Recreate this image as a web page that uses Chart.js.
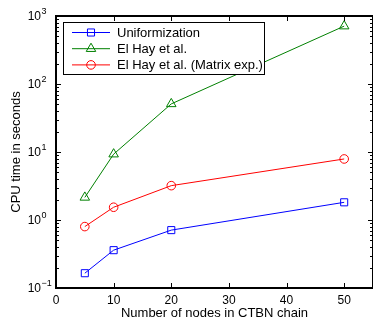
<!DOCTYPE html>
<html>
<head>
<meta charset="utf-8">
<script src="https://cdn.jsdelivr.net/npm/chart.js@4.4.1/dist/chart.umd.min.js"></script>
<style>
  html, body { margin: 0; padding: 0; background: #fff; }
  #wrap { width: 373px; height: 320px; }
</style>
</head>
<body>
<div id="wrap"><canvas id="cpuChart" width="373" height="320"></canvas></div>
<script>
const nodes = [5, 10, 20, 50];
const uniformization = [0.165, 0.36, 0.71, 1.82];
const elHay = [2.15, 9.3, 51, 710];
const elHayExpm = [0.8, 1.54, 3.2, 7.9];
const seriesNames = ["Uniformization", "El Hay et al.", "El Hay et al. (Matrix exp.)"];
const xTicks = [0, 10, 20, 30, 40, 50];
const yDecades = [-1, 0, 1, 2, 3];

const FONT = '"Liberation Sans", Arial, Helvetica, sans-serif';

function toPoints(ys) {
    return nodes.map((n, i) => ({ x: n, y: ys[i] }));
}

// ticks, box, superscript labels, titles, legend (matlab look)
const matlabAxes = {
    id: 'matlabAxes',
    afterDraw(chart) {
        const ctx = chart.ctx;
        const area = chart.chartArea;
        const xs = chart.scales.x;
        const ys = chart.scales.y;
        ctx.save();

        // tick marks, pointing inwards on all four sides
        ctx.strokeStyle = '#000';
        ctx.lineWidth = 1;
        ctx.beginPath();
        ys.ticks.forEach(t => {
            const y = Math.round(ys.getPixelForValue(t.value)) + 0.5;
            const major = Math.abs(Math.log10(t.value) - Math.round(Math.log10(t.value))) < 1e-9;
            const len = major ? 5 : 3;
            ctx.moveTo(area.left, y); ctx.lineTo(area.left + len, y);
            ctx.moveTo(area.right, y); ctx.lineTo(area.right - len, y);
        });
        xs.ticks.forEach(t => {
            const x = Math.round(xs.getPixelForValue(t.value)) + 0.5;
            ctx.moveTo(x, area.bottom); ctx.lineTo(x, area.bottom - 5);
            ctx.moveTo(x, area.top); ctx.lineTo(x, area.top + 5);
        });
        ctx.stroke();

        // box
        ctx.lineWidth = 2;
        ctx.strokeRect(area.left, area.top, area.right - area.left, area.bottom - area.top);

        // y tick labels 10^n
        ctx.fillStyle = '#000';
        yDecades.forEach(e => {
            const y = ys.getPixelForValue(Math.pow(10, e));
            ctx.font = '12px ' + FONT;
            ctx.textAlign = 'right';
            ctx.textBaseline = 'middle';
            ctx.fillText('10', 41, y + 0.5);
            ctx.font = '9px ' + FONT;
            ctx.textAlign = 'left';
            ctx.textBaseline = 'alphabetic';
            ctx.fillText(String(e).replace('-', '\u2212'), 41.5, y - 2.5);
        });

        // axis titles
        ctx.font = '13px ' + FONT;
        ctx.textAlign = 'center';
        ctx.textBaseline = 'alphabetic';
        ctx.fillText('Number of nodes in CTBN chain', (area.left + area.right) / 2, 317);
        ctx.save();
        ctx.translate(20, (area.top + area.bottom) / 2);
        ctx.rotate(-Math.PI / 2);
        ctx.fillText('CPU time in seconds', 0, 0);
        ctx.restore();

        // legend box
        const lx = 63, ly = 22, lw = 201, lh = 52;
        ctx.fillStyle = '#fff';
        ctx.fillRect(lx, ly, lw, lh);
        ctx.lineWidth = 1;
        ctx.strokeStyle = '#000';
        ctx.strokeRect(lx + 0.5, ly + 0.5, lw, lh);
        chart.data.datasets.forEach((ds, i) => {
            const y = 32.5 + i * 16.2;
            ctx.strokeStyle = ds.borderColor;
            ctx.lineWidth = 1;
            ctx.beginPath();
            ctx.moveTo(72, y); ctx.lineTo(110, y);
            ctx.stroke();
            ctx.fillStyle = 'rgba(0,0,0,0)';
            Chart.helpers.drawPoint(ctx, {
                pointStyle: ds.pointStyle, radius: ds.pointRadius, borderWidth: 1, rotation: 0
            }, 91, y);
            ctx.fillStyle = '#000';
            ctx.font = '13px ' + FONT;
            ctx.textAlign = 'left';
            ctx.textBaseline = 'middle';
            ctx.fillText(ds.label, 117, y + 0.5);
        });
        ctx.restore();
    }
};

const ctx = document.getElementById('cpuChart').getContext('2d');
new Chart(ctx, {
    type: 'line',
    data: {
        datasets: [
            {
                label: seriesNames[0],
                data: toPoints(uniformization),
                borderColor: '#0000ff',
                pointStyle: 'rect',
                pointRadius: 5
            },
            {
                label: seriesNames[1],
                data: toPoints(elHay),
                borderColor: '#008000',
                pointStyle: 'triangle',
                pointRadius: 5.5
            },
            {
                label: seriesNames[2],
                data: toPoints(elHayExpm),
                borderColor: '#ff0000',
                pointStyle: 'circle',
                pointRadius: 4.3
            }
        ].map(ds => Object.assign(ds, {
            borderWidth: 1,
            backgroundColor: 'rgba(0,0,0,0)',
            pointBackgroundColor: 'rgba(0,0,0,0)',
            pointBorderColor: ds.borderColor,
            pointBorderWidth: 1,
            tension: 0,
            clip: false
        }))
    },
    options: {
        responsive: false,
        animation: false,
        layout: { autoPadding: false, padding: { top: 16, right: -1, left: 0, bottom: 0 } },
        plugins: {
            legend: { display: false },
            tooltip: { enabled: false }
        },
        scales: {
            x: {
                type: 'linear',
                min: 0,
                max: 55,
                afterBuildTicks: s => { s.ticks = xTicks.map(v => ({ value: v })); },
                afterFit: s => { s.height = 32; s.paddingLeft = 0; s.paddingRight = 0; },
                grid: { display: false, drawTicks: false },
                border: { display: false },
                ticks: {
                    padding: 5,
                    color: '#000',
                    font: { family: FONT, size: 12 },
                    maxRotation: 0
                }
            },
            y: {
                type: 'logarithmic',
                min: 0.1,
                max: 1000,
                afterBuildTicks: s => {
                    const t = [];
                    for (let e = -1; e < 3; e++) {
                        for (let m = 1; m < 10; m++) t.push({ value: m * Math.pow(10, e) });
                    }
                    t.push({ value: 1000 });
                    s.ticks = t;
                },
                afterFit: s => { s.width = 56; s.paddingTop = 0; s.paddingBottom = 0; },
                grid: { display: false },
                border: { display: false },
                ticks: { display: false }
            }
        }
    },
    plugins: [matlabAxes]
});
</script>
</body>
</html>
